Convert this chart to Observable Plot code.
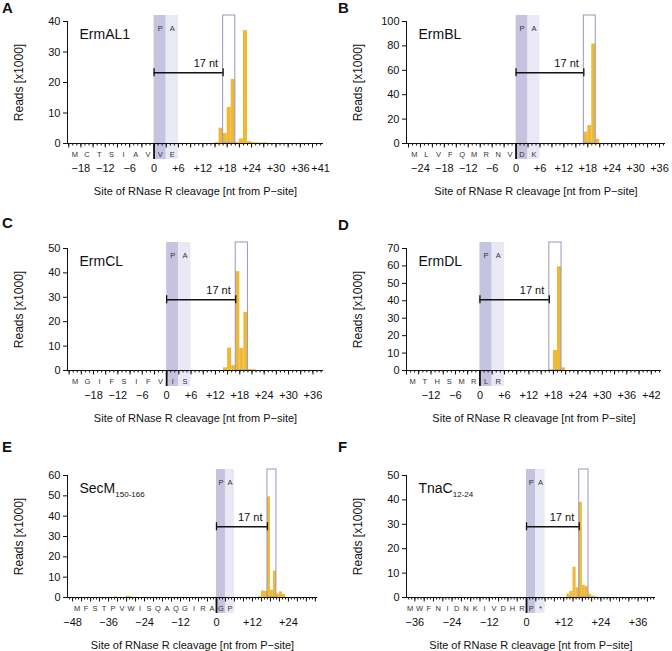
<!DOCTYPE html>
<html><head><meta charset="utf-8">
<script src="https://cdn.jsdelivr.net/npm/d3@7"></script>
<script src="https://cdn.jsdelivr.net/npm/@observablehq/plot@0.6"></script>
<style>
body{margin:0;background:#fff;}
#root{position:relative;width:672px;height:651px;overflow:hidden;font-family:"Liberation Sans",Arial,sans-serif;}
.panel{position:absolute;}
.letter{position:absolute;font-weight:bold;font-size:15px;line-height:16px;color:#111;}
</style></head><body><div id="root"></div>
<script>
// ---------- data ----------
const panelIds = ["A","B","C","D","E","F"];
const names = ["ErmAL1","ErmBL","ErmCL","ErmDL","SecM","TnaC"];
const nameSubs = ["","","","","150-166","12-24"];
const peptides = ["MCTSIAVVE","MLVFQMRNVDK","MGIFSIFVIS","MTHSMRLR","MFSTPVWISQAQGIRAGP","MWFNIDNKIVDHRP*"];
const pSiteIndex = [7, 9, 8, 6, 16, 13];
const yMax = [40, 100, 50, 70, 60, 50];
const yStep = [10, 20, 10, 10, 10, 10];
const xDomains = [[-21.3, 41.7], [-27.5, 37.5], [-24.4, 38.6], [-18, 44.5], [-49.7, 33.7], [-38.7, 41.6]];
const xTickLabels = [
  [-18,-12,-6,0,6,12,18,24,30,36,41],
  [-24,-18,-12,-6,0,6,12,18,24,30,36],
  [-18,-12,-6,0,6,12,18,24,30,36],
  [-12,-6,0,6,12,18,24,30,36,42],
  [-48,-36,-24,-12,0,12,24],
  [-36,-24,-12,0,12,24,36]
];
// reads per nucleotide position (x1000)
const posA = [15,16,17,18,19,20,21,22,23,24,25,26,27];
const readsA = [0.3,5.0,3.3,11.8,21.0,0.3,1.5,37.0,0.6,0.3,0.2,0.1,0.2];
const posB = [17,18,19,20];
const readsB = [9.3,14.7,81.5,3.5];
const posC = [14,15,16,17,18,19,20,21];
const readsC = [1.1,9.2,2.0,40.5,9.0,23.8,0.4,0.3];
const posD = [17,18,19,20];
const readsD = [0.2,11.5,59.5,1.5];
const posE = [-34,-30,-29,14,15,16,17,18,19,20,21,22];
const readsE = [0.3,0.6,0.4,0.3,3.2,3.0,49.5,3.6,13.0,1.6,2.8,1.5];
const posF = [13,14,15,16,17,18,19,20,21,22];
const readsF = [1.4,2.5,12.4,4.0,39.0,5.0,4.5,1.3,0.6,0.3];
const positions = [posA,posB,posC,posD,posE,posF];
const reads = [readsA,readsB,readsC,readsD,readsE,readsF];
const siteP = {x1: 0, x2: 3, label: "P"};
const siteA = {x1: 3, x2: 6, label: "A"};
const cleavageBox = {x1: 17, x2: 20};
const bracket = {x1: 0, x2: 17, label: "17 nt"};
const yTitle = "Reads [x1000]";
const xTitle = "Site of RNase R cleavage [nt from P\u2212site]";

// ---------- layout ----------
const layouts = [
  {left:0,   top:0,   h:205, mL:67, mR:13, mT:21, mB:62, lx:2,   ly:0},
  {left:336, top:0,   h:205, mL:70, mR:7,  mT:21, mB:62, lx:338, ly:0},
  {left:0,   top:210, h:215, mL:67, mR:13, mT:38, mB:55, lx:2,   ly:215},
  {left:336, top:210, h:215, mL:70, mR:11, mT:38, mB:55, lx:338, ly:217},
  {left:0,   top:430, h:221, mL:67, mR:19, mT:45, mB:54, lx:2,   ly:439},
  {left:336, top:430, h:221, mL:70, mR:17, mT:45, mB:54, lx:338, ly:439}
];
const PCOL = "#c6c3e1", ACOL = "#e9e8f5", BOXCOL = "#9a98bb", BARCOL = "#efb935";
const fmt = d => d > 0 ? "+" + d : d < 0 ? "\u2212" + (-d) : "0";
const root = document.getElementById("root");

panelIds.forEach((id, k) => {
  const L = layouts[k];
  const ymax = yMax[k];
  const domain = xDomains[k];
  const bars = positions[k].map((p, i) => ({x1: p, x2: p + 1, v: reads[k][i]}));
  const aas = Array.from(peptides[k], (c, i) => ({c, x: (i - pSiteIndex[k]) * 3 + 1.5}));
  const minor = d3.range(Math.ceil(domain[0]), Math.floor(domain[1]) + 1);
  const major = minor.filter(d => d % 3 === 0);
  const yt = d3.range(0, ymax + 1e-9, yStep[k]);
  const yb = ymax * 0.58;
  const chart = Plot.plot({
    width: 336, height: L.h,
    marginLeft: L.mL, marginRight: L.mR, marginTop: L.mT, marginBottom: L.mB,
    style: {fontFamily: '"Liberation Sans", Arial, sans-serif', fontSize: "11px", background: "transparent", color: "#111", overflow: "visible"},
    x: {domain, axis: null},
    y: {domain: [0, ymax]},
    marks: [
      Plot.rect([siteP], {x1: "x1", x2: "x2", fill: PCOL, insetTop: -6, insetBottom: -16}),
      Plot.rect([siteA], {x1: "x1", x2: "x2", fill: ACOL, insetTop: -6, insetBottom: -16}),
      Plot.text([siteP, siteA], {x: d => (d.x1 + d.x2) / 2, text: "label", frameAnchor: "top", dy: 7, lineAnchor: "middle", fontSize: 7.5, fill: "#333"}),
      Plot.rect(bars, {x1: "x1", x2: "x2", y1: 0, y2: "v", fill: BARCOL}),
      Plot.rect([cleavageBox], {x1: "x1", x2: "x2", fill: "none", stroke: BOXCOL, strokeWidth: 1, insetTop: -6}),
      // bracket
      Plot.ruleY([bracket], {x1: "x1", x2: "x2", y: () => yb, stroke: "#111", strokeWidth: 1.3}),
      Plot.ruleX([bracket.x1, bracket.x2], {x: d => d, y1: () => yb, y2: () => yb, insetTop: -4, insetBottom: -4, stroke: "#111", strokeWidth: 1.3}),
      Plot.text([bracket], {x: "x2", y: () => yb, text: "label", textAnchor: "end", dx: -5, dy: -9, fontSize: 11}),
      // axes
      Plot.axisY({ticks: yt, tickSize: 4, tickPadding: 3, label: null, tickFormat: d => d}),
      Plot.ruleX([domain[0]], {stroke: "#111"}),
      Plot.ruleY([0], {stroke: "#111"}),
      Plot.ruleX(minor, {x: d => d, y1: 0, y2: 0, insetBottom: -2.5, stroke: "#111"}),
      Plot.ruleX(major, {x: d => d, y1: 0, y2: 0, insetBottom: -4.5, stroke: "#111"}),
      Plot.ruleX([0], {x: d => d, y1: 0, y2: 0, insetBottom: -16, stroke: "#111", strokeWidth: 1.8}),
      Plot.text(aas, {x: "x", text: "c", frameAnchor: "bottom", dy: 11, lineAnchor: "middle", fontSize: 7.5, fill: "#333"}),
      Plot.text(xTickLabels[k], {x: d => d, text: fmt, frameAnchor: "bottom", dy: 25, lineAnchor: "middle", fontSize: 11}),
      Plot.text([xTitle], {frameAnchor: "bottom", dy: 48, lineAnchor: "middle", fontSize: 11}),
      Plot.text([yTitle], {frameAnchor: "left", rotate: -90, dx: -48, textAnchor: "middle", lineAnchor: "middle", fontSize: 12}),
      Plot.text([names[k]], {frameAnchor: "top-left", dx: 12, dy: 13, textAnchor: "start", lineAnchor: "middle", fontSize: 14})
    ]
  });
  if (nameSubs[k]) {
    d3.select(chart).selectAll("text").filter(function () { return this.textContent === names[k]; })
      .append("tspan").attr("dy", 4).attr("font-size", 8).text(nameSubs[k]);
  }
  const wrap = document.createElement("div");
  wrap.className = "panel";
  wrap.style.left = L.left + "px";
  wrap.style.top = L.top + "px";
  wrap.appendChild(chart);
  root.appendChild(wrap);
  const lab = document.createElement("div");
  lab.className = "letter";
  lab.style.left = L.lx + "px";
  lab.style.top = L.ly + "px";
  lab.textContent = id;
  root.appendChild(lab);
});
</script></body></html>
